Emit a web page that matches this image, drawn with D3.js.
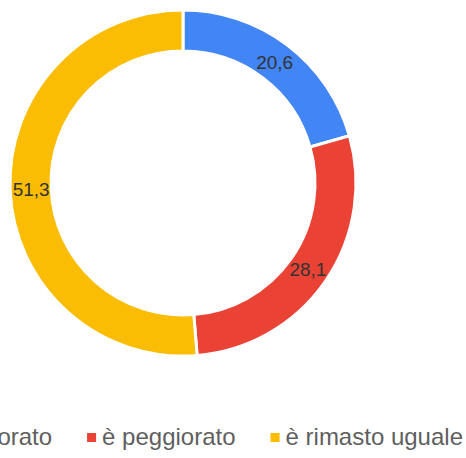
<!DOCTYPE html>
<html>
<head>
<meta charset="utf-8">
<script src="https://cdn.jsdelivr.net/npm/d3@7"></script>
<style>
  body { margin: 0; background: #fff; }
  svg { display: block; font-family: Arial, "Liberation Sans", sans-serif; }
</style>
</head>
<body>
<script>
// Data
const categories = ["è migliorato", "è peggiorato", "è rimasto uguale"];
const values = [20.6, 28.1, 51.3];
const colors = ["#4285F4", "#EA4335", "#FBBC04"];

const width = 466;
const height = 458;
const cx = 183, cy = 183;
const outerR = 173, innerR = 132;

let svg = d3.select("body").append("svg")
    .attr("width", width)
    .attr("height", height);

let data = categories.map((c, i) => ({ name: c, value: values[i], color: colors[i] }));

let pie = d3.pie().sort(null).value(d => d.value);
let arc = d3.arc().innerRadius(innerR).outerRadius(outerR);
let labelArc = d3.arc().innerRadius(152).outerRadius(152);

let g = svg.append("g").attr("transform", `translate(${cx},${cy})`);

g.selectAll(".slice")
    .data(pie(data)).enter()
        .append("path")
    .attr("class", "slice")
    .attr("d", arc)
    .attr("fill", d => d.data.color)
    .attr("stroke", "#fff")
    .attr("stroke-width", 3);

g.selectAll(".slice-label")
    .data(pie(data)).enter()
        .append("text")
    .attr("class", "slice-label")
    .attr("transform", d => `translate(${labelArc.centroid(d)})`)
    .attr("text-anchor", "middle")
    .attr("dy", "0.36em")
    .style("font-size", "19px")
    .attr("fill", "#333")
    .text(d => d3.format(".1f")(d.data.value).replace(".", ","));

// Legend, centred under the donut (left part runs off the page, as in the original)
const legendY = 445;
const boxSize = 9, boxGap = 6, itemGap = 35;
let legend = svg.append("g");
let items = legend.selectAll(".legend-item")
    .data(data).enter()
        .append("g")
    .attr("class", "legend-item");

items.append("rect")
    .attr("width", boxSize)
    .attr("height", boxSize)
    .attr("y", -12)
    .attr("fill", d => d.color);

items.append("text")
    .attr("x", boxSize + boxGap)
    .style("font-size", "24px")
    .attr("fill", "#5f5f5f")
    .text(d => d.name);

let widths = [];
items.each(function() {
    widths.push(this.getBBox().width);
});
let total = d3.sum(widths) + itemGap * (widths.length - 1);
let startX = cx + 5 - total / 2;
items.attr("transform", (d, i) => {
    let pos = startX + d3.sum(widths.slice(0, i)) + itemGap * i;
    return `translate(${pos},${legendY})`;
});
</script>
</body>
</html>
